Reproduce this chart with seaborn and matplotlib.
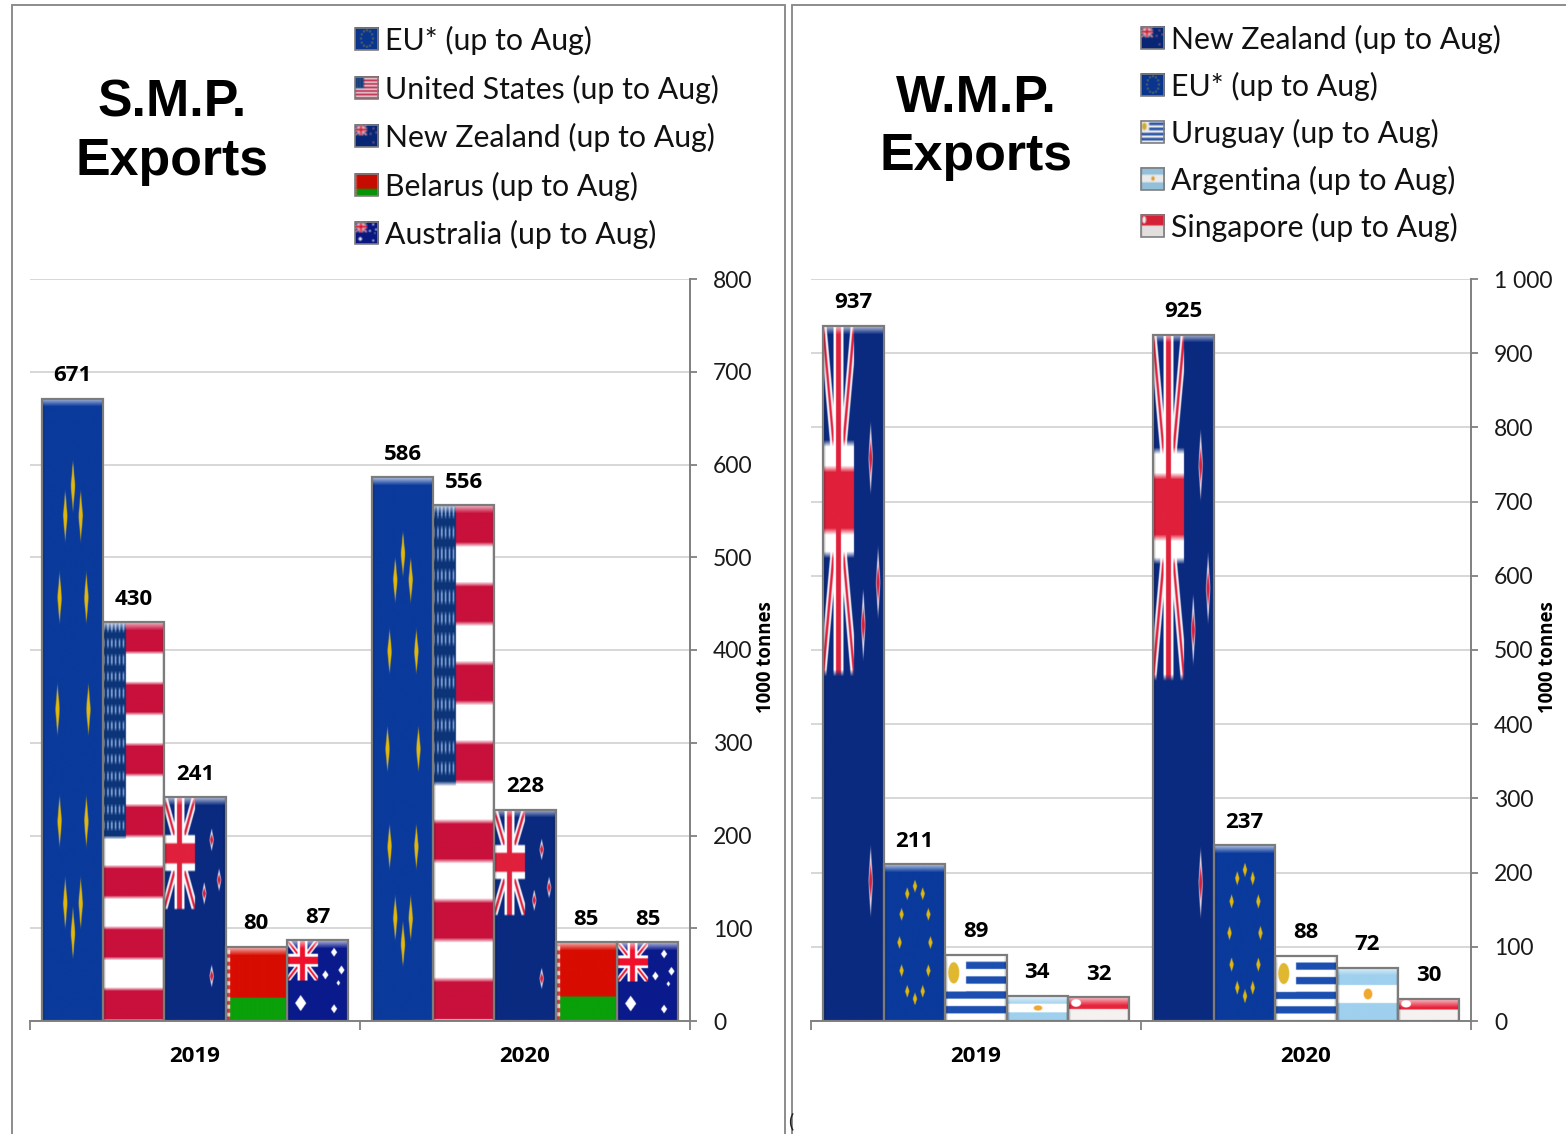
import numpy as np
import pandas as pd
import matplotlib
matplotlib.use("Agg")
import matplotlib.pyplot as plt
import seaborn as sns
from matplotlib.lines import Line2D
from matplotlib.patches import Rectangle
from matplotlib.image import BboxImage
from matplotlib.legend_handler import HandlerBase
from matplotlib.transforms import Bbox, TransformedBbox

years = ["2019", "2020"]
smp_countries = ["EU", "US", "NZ", "BY", "AU"]
smp_labels = ["EU* (up to Aug)", "United States (up to Aug)", "New Zealand (up to Aug)",
              "Belarus (up to Aug)", "Australia (up to Aug)"]
smp_2019 = [671, 430, 241, 80, 87]
smp_2020 = [586, 556, 228, 85, 85]
wmp_countries = ["NZ", "EU", "UY", "AR", "SG"]
wmp_labels = ["New Zealand (up to Aug)", "EU* (up to Aug)", "Uruguay (up to Aug)",
              "Argentina (up to Aug)", "Singapore (up to Aug)"]
wmp_2019 = [937, 211, 89, 34, 32]
wmp_2020 = [925, 237, 88, 72, 30]
smp_ticks = list(range(0, 801, 100))
wmp_ticks = list(range(0, 1001, 100))
wmp_tick_labels = [str(t) if t < 1000 else "1 000" for t in wmp_ticks]

W, H = 1566, 1134
BASE = {"EU": "#0a3a9c", "US": "#c8103c", "NZ": "#0a2a80", "BY": "#d80c00",
        "AU": "#0a1a8c", "UY": "#1c4fb0", "AR": "#9fd0ee", "SG": "#e8243c"}
BOLD = "Open Sans"


def rgb(c):
    return np.array(matplotlib.colors.to_rgb(c))


def grid(n=300):
    v, u = np.mgrid[0:1:n * 1j, 0:1:n * 1j]
    return u, v


def paint(img, mask, c):
    img[mask] = rgb(c)


def diamond(u, v, cu, cv, a, b):
    return np.abs(u - cu) / a + np.abs(v - cv) / b < 1


def union_jack(img, u, v, red="#e0203c"):
    cw, ch = 0.5, 0.5
    inside = (u < cw) & (v < ch)
    d1 = np.abs(v / ch - u / cw)
    d2 = np.abs(v / ch - (1 - u / cw))
    paint(img, inside & ((d1 < 0.11) | (d2 < 0.11)), "#f4f0f4")
    paint(img, inside & ((d1 < 0.04) | (d2 < 0.04)), red)
    paint(img, inside & ((np.abs(u - 0.25) < 0.08) | (np.abs(v - 0.25) < 0.08)), "#ffffff")
    paint(img, inside & ((np.abs(u - 0.25) < 0.04) | (np.abs(v - 0.25) < 0.045)), red)


def soften(img, r=1):
    out = img.copy()
    for axis in (0, 1):
        out = sum(np.roll(out, k, axis=axis) for k in range(-r, r + 1)) / (2 * r + 1)
        # keep the flag edges from wrapping round
        if axis == 0:
            out[:r + 1] = img[:r + 1]
            out[-r - 1:] = img[-r - 1:]
        else:
            out[:, :r + 1] = img[:, :r + 1]
            out[:, -r - 1:] = img[:, -r - 1:]
    return out


def flag(code):
    u, v = grid()
    img = np.zeros(u.shape + (3,))
    img[:] = rgb(BASE[code])
    if code == "EU":
        for k in range(12):
            th = k * np.pi / 6
            paint(img, diamond(u, v, 0.5 + 0.25 * np.cos(th), 0.5 + 0.36 * np.sin(th), 0.035, 0.04), "#e2b80c")
    elif code == "US":
        band = (v * 13).astype(int) % 2 == 1
        paint(img, band, "#ffffff")
        cant = (u < 0.37) & (v < 0.54)
        paint(img, cant, "#0c3478")
        dots = cant & (np.sin(u * 2 * np.pi * 16) > 0.2) & (np.sin(v * 2 * np.pi * 24) > 0.0)
        img[dots] = rgb("#7f9fd0")
    elif code == "NZ":
        union_jack(img, u, v)
        for cu, cv in [(0.77, 0.19), (0.89, 0.37), (0.65, 0.43), (0.77, 0.80)]:
            paint(img, diamond(u, v, cu, cv, 0.035, 0.05), "#e8dce8")
            paint(img, diamond(u, v, cu, cv, 0.028, 0.025), "#d8203c")
    elif code == "AU":
        union_jack(img, u, v, "#f0102c")
        for cu, cv, s in [(0.22, 0.78, 0.09), (0.76, 0.15, 0.05), (0.88, 0.37, 0.05),
                          (0.62, 0.43, 0.05), (0.76, 0.85, 0.05), (0.83, 0.53, 0.03)]:
            paint(img, diamond(u, v, cu, cv, s, s * 1.1), "#ffffff")
    elif code == "BY":
        paint(img, v > 0.69, "#0aa00a")
        hoist = u < 0.065
        paint(img, hoist, "#f4d8d8")
        img[hoist & (np.sin(v * 60) > 0)] = rgb("#d84040")
    elif code == "UY":
        paint(img, np.ones_like(u, bool), "#ffffff")
        paint(img, (v * 9).astype(int) % 2 == 1, BASE["UY"])
        paint(img, (u < 0.34) & (v < 0.56), "#ffffff")
        paint(img, ((u - 0.14) / 0.09) ** 2 + ((v - 0.28) / 0.16) ** 2 < 1, "#e0b830")
    elif code == "AR":
        paint(img, (v > 1 / 3) & (v < 2 / 3), "#ffffff")
        paint(img, ((u - 0.5) / 0.07) ** 2 + ((v - 0.5) / 0.1) ** 2 < 1, "#f0a830")
    elif code == "SG":
        paint(img, v > 0.5, "#f6f2f2")
        paint(img, ((u - 0.13) / 0.08) ** 2 + ((v - 0.25) / 0.16) ** 2 < 1, "#ffffff")
    img = soften(img)
    side = (u < 0.04) | (u > 0.96)
    img[side] *= 0.82
    return img


TEX = {c: flag(c) for c in BASE}


def mini(code):
    return np.clip(soften(TEX[code], 14) * 0.92, 0, 1)


class FlagHandler(HandlerBase):
    def create_artists(self, legend, orig, xd, yd, width, height, fontsize, trans):
        box = Bbox.from_bounds(-xd, -yd - 1, width, height + 2)
        im = BboxImage(TransformedBbox(box, trans), interpolation="bilinear")
        im.set_data(mini(orig.get_label()))
        edge = Rectangle((-xd, -yd - 1), width, height + 2, fc="none", ec="#7f7f7f", lw=1.2, transform=trans)
        return [im, edge]


sns.set_theme(style="white")
plt.rcParams["font.family"] = ["Lato", "DejaVu Sans"]
fig = plt.figure(figsize=(W / 100, H / 100), dpi=100, facecolor="white")


def panel(x0, x1, y_top, y_bot, countries, labels, v19, v20, ticks, ticklabels, ymax,
          title, tx, ty, leg_x, leg_y, leg_space, ylab_x):
    ax = fig.add_axes([x0 / W, 1 - y_bot / H, (x1 - x0) / W, (y_bot - y_top) / H])
    df = pd.DataFrame({
        "year": [years[0]] * 5 + [years[1]] * 5,
        "country": list(countries) * 2,
        "value": list(v19) + list(v20),
    })
    sns.barplot(data=df, x="year", y="value", hue="country", order=years, hue_order=countries,
                palette=BASE, width=0.928, gap=0, saturation=1, legend=False, ax=ax, zorder=2)
    ax.set_xlim(-0.5, 1.5)
    ax.set_ylim(0, ymax)
    bev = 0.0105 * ymax
    grad = np.ones((20, 2, 4))
    grad[:, :, 3] = np.linspace(0.7, 0.05, 20)[:, None]
    for code, cont in zip(countries, ax.containers):
        for bar in cont:
            l, w, h = bar.get_x(), bar.get_width(), bar.get_height()
            ax.imshow(TEX[code], extent=[l, l + w, 0, h], aspect="auto", zorder=2.5, interpolation="bilinear")
            ax.imshow(grad, extent=[l, l + w, h - bev, h], aspect="auto", zorder=2.7, interpolation="bilinear")
            ax.add_patch(Rectangle((l, 0), w, h, fc="none", ec="#7c7c7c", lw=1.6, zorder=3))
        ax.bar_label(cont, padding=9, fontsize=16, fontweight="bold", family=BOLD, color="black", zorder=5)
    ax.set_xlim(-0.5, 1.5)
    ax.set_ylim(0, ymax)
    ax.set_xlabel("")
    ax.set_ylabel("")
    ax.yaxis.tick_right()
    ax.set_yticks(ticks)
    ax.set_yticklabels(ticklabels, fontsize=16.5, color="#1a1a1a")
    ax.tick_params(axis="y", length=5, width=1.3, color="#808080", pad=11.5, right=True, left=False)
    ax.set_xticks([0, 1])
    ax.set_xticklabels(years, fontsize=16, fontweight="bold", family=BOLD, color="black")
    ax.set_xticks([-0.5, 0.5, 1.5], minor=True)
    ax.tick_params(axis="x", which="major", length=0, pad=18, bottom=False)
    ax.tick_params(axis="x", which="minor", length=6.5, width=1.3, color="#808080", bottom=True)
    ax.set_axisbelow(True)
    ax.yaxis.grid(True, color="#d4d4d4", lw=1.3)
    ax.xaxis.grid(False)
    for s in ["top", "left"]:
        ax.spines[s].set_visible(False)
    for s in ["right", "bottom"]:
        ax.spines[s].set_visible(True)
        ax.spines[s].set_color("#808080")
        ax.spines[s].set_linewidth(1.4)
    fig.text(ylab_x / W, 1 - 657 / H, "1000 tonnes", rotation=90, ha="center", va="center",
             fontsize=13.4, fontweight="bold", family=BOLD, color="black")
    fig.text(tx / W, 1 - ty / H, title, ha="center", va="center", family="Liberation Sans",
             fontsize=37.4, fontweight="bold", color="black", linespacing=1.25)
    handles = [Rectangle((0, 0), 1, 1, label=c) for c in countries]
    ax.legend(handles, labels, handler_map={Rectangle: FlagHandler()}, loc="upper left",
              bbox_to_anchor=(leg_x / W, 1 - leg_y / H), bbox_transform=fig.transFigure,
              frameon=False, fontsize=21.8, borderpad=0, borderaxespad=0, handlelength=0.76,
              handleheight=0.6, handletextpad=0.24, labelspacing=leg_space, labelcolor="#111111")
    return ax


panel(30, 690, 279, 1021, smp_countries, smp_labels, smp_2019, smp_2020, smp_ticks,
      [str(t) for t in smp_ticks], 800, "S.M.P.\nExports", 172, 132.5, 355, 26, 0.64, 766)
panel(811, 1471, 279, 1021, wmp_countries, wmp_labels, wmp_2019, wmp_2020, wmp_ticks,
      wmp_tick_labels, 1000, "W.M.P.\nExports", 976, 127.5, 1141, 25, 0.59, 1548)

for xs, ys in [([12, 12], [1134, 5]), ([12, 785], [5, 5]), ([785, 785], [5, 1134]),
               ([792, 792], [1134, 5]), ([792, 1566], [5, 5])]:
    fig.add_artist(Line2D([x / W for x in xs], [1 - y / H for y in ys], color="#8c8c8c", lw=1.4))
fig.text(788 / W, 1 - 1121 / H, "(", fontsize=14, ha="left", va="center", color="#222222")

fig.savefig("out.png", dpi=100, facecolor="white")
